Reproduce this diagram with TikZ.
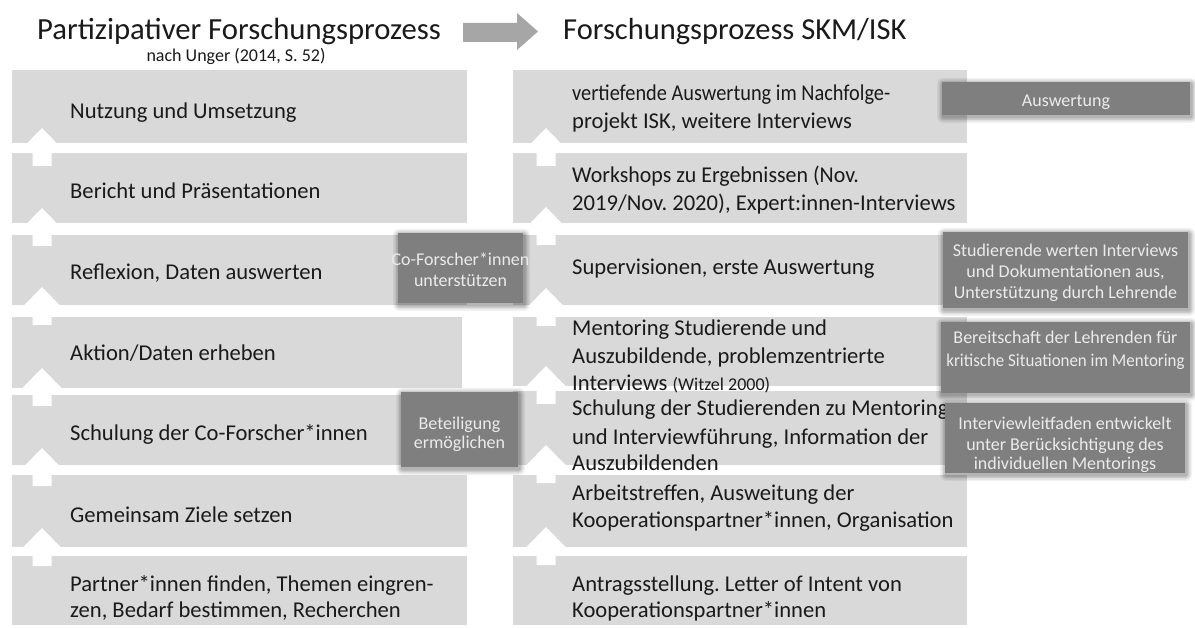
\documentclass[tikz,border=0pt]{standalone}
\usepackage{fontspec}
\setmainfont{Carlito}
\usetikzlibrary{fit}
\frenchspacing
\definecolor{boxgray}{HTML}{D9D9D9}
\definecolor{darkbox}{HTML}{7F7F7F}
\definecolor{darktext}{HTML}{EBEBEB}
\definecolor{bigarrow}{HTML}{A6A6A6}
\definecolor{ink}{HTML}{1A1A1A}
\tikzset{
  lbox/.style={fill=boxgray, draw=none, inner sep=0pt},
  dbox/.style={fill=darkbox, draw=none, inner sep=0pt},
  txt/.style={anchor=base west, inner sep=0pt, yshift=-2pt, text=ink, font=\fontsize{22.6}{27}\selectfont},
  dtxt/.style={anchor=base, inner sep=0pt, yshift=-2pt, text=darktext, font=\fontsize{18}{21}\selectfont},
  titlefont/.style={anchor=base west, inner sep=0pt, text=ink},
  uparrow/.pic={\fill[white] (0,0) -- (19.5,20) -- (9.5,20) -- (9.5,38) -- (-9.5,38) -- (-9.5,20) -- (-19.5,20) -- cycle;},
}
\newcommand\bline[4]{\node[txt] (#1) at (#2,#3) {#4};}
\newcommand\dline[4]{\node[dtxt] (#1) at (#2,#3) {#4};}
\newcommand\mydarkbox[5]{%
  \foreach \e/\o in {6/0.05, 4.5/0.07, 3/0.09, 1.5/0.11}{%
    \fill[black, opacity=\o, rounded corners=\e pt] (#2-\e+1, #3-\e+2) rectangle (#4+\e+1, #5+\e+2);}
  \node[dbox, fit={(#2,#3) (#4,#5)}] (#1) {};
}
\begin{document}
\begin{tikzpicture}[x=1pt, y=-1pt]
\useasboundingbox (0,0) rectangle (1195,628);
\fill[white] (0,0) rectangle (1195,628);

% titles
\node[titlefont, font=\fontsize{30.7}{36}\selectfont] (title1) at (37,40) {Partizipativer Forschungsprozess};
\node[titlefont, font=\fontsize{30.5}{36}\selectfont] (title2) at (563,40) {Forschungsprozess SKM/ISK};
\node[anchor=base, inner sep=0pt, text=ink, font=\fontsize{18}{20}\selectfont] (sub) at (236,62) {nach Unger (2014, S. 52)};
\fill[bigarrow] (463,23) -- (517,23) -- (517,13) -- (538,31.5) -- (517,50) -- (517,42) -- (463,42) -- cycle;

% left boxes
\node[lbox, fit={(12,70) (467,143)}] (LB1) {};
\node[lbox, fit={(12,153) (467,223)}] (LB2) {};
\node[lbox, fit={(12,235) (467,305)}] (LB3) {};
\node[lbox, fit={(12,317) (462,388)}] (LB4) {};
\node[lbox, fit={(12,395) (467,465)}] (LB5) {};
\node[lbox, fit={(12,475) (467,547)}] (LB6) {};
\node[lbox, fit={(12,556) (467,625)}] (LB7) {};

% right boxes
\node[lbox, fit={(513,70) (967,143)}] (RB1) {};
\node[lbox, fit={(513,153) (967,223)}] (RB2) {};
\node[lbox, fit={(513,235) (967,305)}] (RB3) {};
\node[lbox, fit={(513,317) (967,386)}] (RB4) {};
\node[lbox, fit={(513,391) (967,465)}] (RB5) {};
\node[lbox, fit={(513,475) (967,547)}] (RB6) {};
\node[lbox, fit={(513,556) (967,625)}] (RB7) {};

% left texts
\bline{LT1}{70}{117}{Nutzung und Umsetzung}
\bline{LT2}{70}{197}{Bericht und Präsentationen}
\bline{LT3}{70}{278}{Reflexion, Daten auswerten}
\bline{LT4}{70}{359}{Aktion/Daten erheben}
\bline{LT5}{70}{438}{Schulung der Co-Forscher*innen}
\bline{LT6}{70}{520}{Gemeinsam Ziele setzen}
\bline{LT7a}{70}{589}{Partner*innen finden, Themen eingren-}
\bline{LT7b}{70}{615}{zen, Bedarf bestimmen, Recherchen}

% right texts
\bline{RT1a}{572}{99}{\scalebox{0.9}[1]{vertiefende Auswertung im Nachfolge-}}
\bline{RT1b}{572}{127}{projekt ISK, weitere Interviews}
\bline{RT2a}{572}{181}{\scalebox{0.97}[1]{Workshops zu Ergebnissen (Nov.}}
\bline{RT2b}{572}{209}{2019/Nov. 2020), Expert:innen-Interviews}
\bline{RT3}{572}{273}{Supervisionen, erste Auswertung}
\bline{RT4a}{572}{334}{Mentoring Studierende und}
\bline{RT4b}{572}{362}{Auszubildende, problemzentrierte}
\bline{RT4c}{572}{389}{Interviews {\fontsize{18}{20}\selectfont(Witzel 2000)}}
\bline{RT5a}{572}{414}{Schulung der Studierenden zu Mentoring}
\bline{RT5b}{572}{442}{und Interviewführung, Information der}
\bline{RT5c}{572}{469}{Auszubildenden}
\bline{RT6a}{572}{498}{Arbeitstreffen, Ausweitung der}
\bline{RT6b}{572}{525}{Kooperationspartner*innen, Organisation}
\bline{RT7a}{572}{589}{Antragsstellung. Letter of Intent von}
\bline{RT7b}{572}{615}{Kooperationspartner*innen}

% white up arrows
\foreach \t in {128,208,287,368,448,528} {\pic at (42,\t) {uparrow};}
\foreach \t in {128,207,288,366,445,527} {\pic at (546,\t) {uparrow};}

% dark boxes
\mydarkbox{D1}{942}{82}{1190}{115}
\mydarkbox{D2}{398}{233}{523}{303}
\mydarkbox{D3}{401}{392}{518}{467}
\mydarkbox{D4}{943}{232}{1188}{308}
\mydarkbox{D5}{941}{322}{1190}{393}
\mydarkbox{D6}{945}{403}{1185}{473}

\dline{D1t}{1066}{105}{Auswertung}
\dline{D2a}{460.5}{264}{Co-Forscher*innen}
\dline{D2b}{460.5}{285}{unterstützen}
\dline{D3a}{459.5}{427}{Beteiligung}
\dline{D3b}{459.5}{447}{ermöglichen}
\dline{D4a}{1065.5}{255}{Studierende werten Interviews}
\dline{D4b}{1065.5}{276}{und Dokumentationen aus,}
\dline{D4c}{1065.5}{297}{Unterstützung durch Lehrende}
\dline{D5a}{1065.5}{342}{Bereitschaft der Lehrenden für}
\dline{D5b}{1065.5}{365}{\scalebox{0.94}[1]{kritische Situationen im Mentoring}}
\dline{D6a}{1065}{428}{Interviewleitfaden entwickelt}
\dline{D6b}{1065}{448}{unter Berücksichtigung des}
\dline{D6c}{1065}{467}{individuellen Mentorings}
\end{tikzpicture}
\end{document}
